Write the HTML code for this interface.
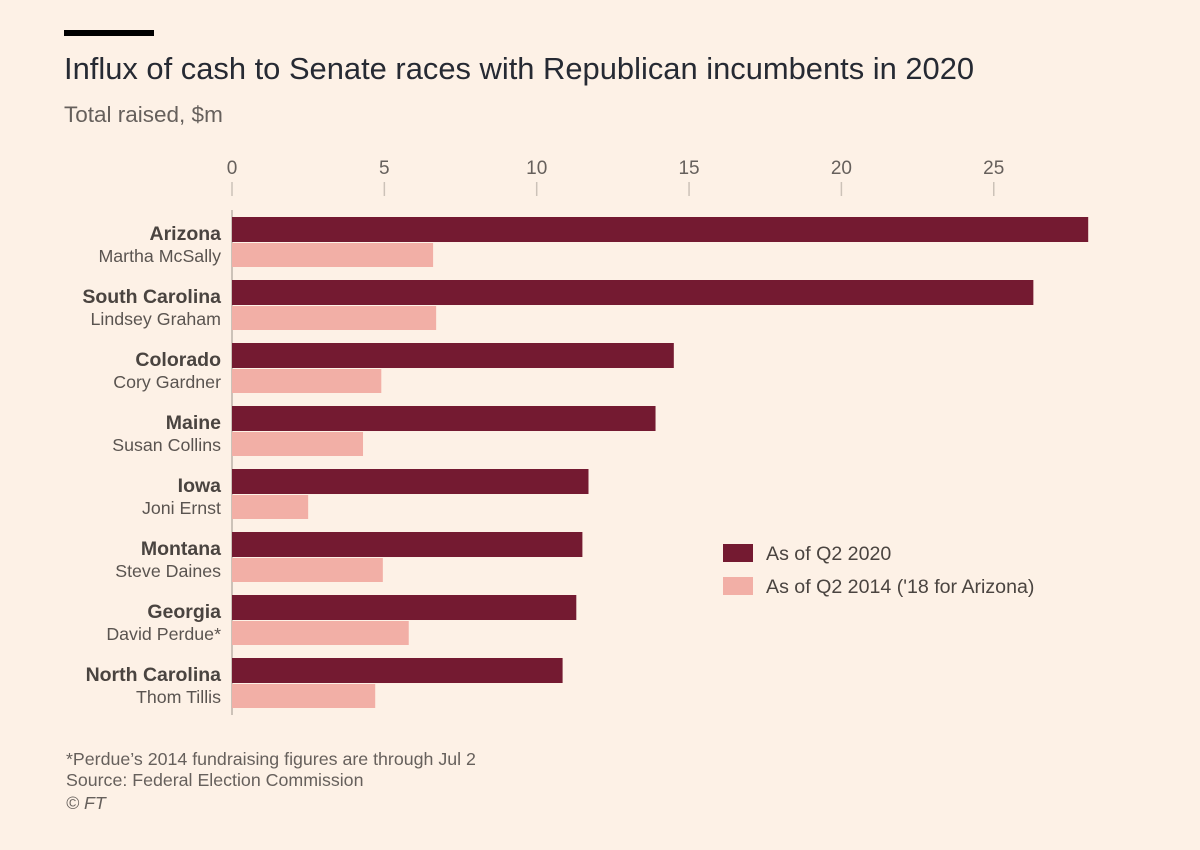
<!DOCTYPE html>
<html><head><meta charset="utf-8"><style>
body{margin:0;background:#fdf1e6;font-family:"Liberation Sans",sans-serif;}
svg{display:block}
</style></head><body>
<svg id="c" width="1200" height="850">
<rect width="1200" height="850" fill="#fdf1e6"/>
<rect x="64" y="30" width="90" height="6" fill="#000"/>
<text x="64" y="79" font-size="30.9" fill="#262a33">Influx of cash to Senate races with Republican incumbents in 2020</text>
<text x="64" y="122" font-size="22.5" fill="#66605c">Total raised, $m</text>
<g id="axis"></g>
<g id="bars"></g>
<g>
<rect x="723" y="544" width="30" height="18" fill="#741a31"/>
<text x="766" y="560" font-size="19.6" fill="#4a4440">As of Q2 2020</text>
<rect x="723" y="577" width="30" height="18" fill="#f2afa6"/>
<text x="766" y="593" font-size="19.6" fill="#4a4440">As of Q2 2014 ('18 for Arizona)</text>
</g>
<text x="66" y="765" font-size="17.8" fill="#66605c">*Perdue’s 2014 fundraising figures are through Jul 2</text>
<text x="66" y="786" font-size="17.8" fill="#66605c">Source: Federal Election Commission</text>
<text x="66" y="809" font-size="17.8" font-style="italic" fill="#66605c">© FT</text>
</svg>
<script>
const states=["Arizona","South Carolina","Colorado","Maine","Iowa","Montana","Georgia","North Carolina"];
const senators=["Martha McSally","Lindsey Graham","Cory Gardner","Susan Collins","Joni Ernst","Steve Daines","David Perdue*","Thom Tillis"];
const q2020=[28.1,26.3,14.5,13.9,11.7,11.5,11.3,10.85];
const q2014=[6.6,6.7,4.9,4.3,2.5,4.95,5.8,4.7];
const ticks=[0,5,10,15,20,25];
const NS="http://www.w3.org/2000/svg";
const x=v=>232+v*30.47;
const yRow=i=>217+i*63;
function mk(tag,attrs,parent,txt){const e=document.createElementNS(NS,tag);for(const k in attrs)e.setAttribute(k,attrs[k]);if(txt!=null)e.textContent=txt;parent.appendChild(e);return e;}
const ax=document.getElementById('axis'),bg=document.getElementById('bars');
ticks.forEach(t=>{
 const l=mk('line',{x1:x(t),x2:x(t),y1:182,y2:196,stroke:'#ccc2b8','stroke-width':1.5},ax);
 
 
 const tx=mk('text',{x:x(t),y:174,'text-anchor':'middle','font-size':19,fill:'#66605c'},ax,String(t));
 
 
});
const al=mk('line',{x1:232,x2:232,y1:210,y2:715,stroke:'#ccc2b8','stroke-width':2},ax);


states.forEach((s,i)=>{
 const y=yRow(i);
 const b1=mk('rect',{x:232,y:y,width:x(q2020[i])-232,height:25,fill:'#741a31'},bg);
 
 
 const b2=mk('rect',{x:232,y:y+26,width:x(q2014[i])-232,height:24,fill:'#f2afa6'},bg);
 
 
 const t1=mk('text',{x:221,y:y+23,'text-anchor':'end','font-size':19.5,'font-weight':'bold',fill:'#4a4440'},bg,s);
 
 
 const t2=mk('text',{x:221,y:y+45,'text-anchor':'end','font-size':17.8,fill:'#5a5450'},bg,senators[i]);
 
 
});
</script>
</body></html>
